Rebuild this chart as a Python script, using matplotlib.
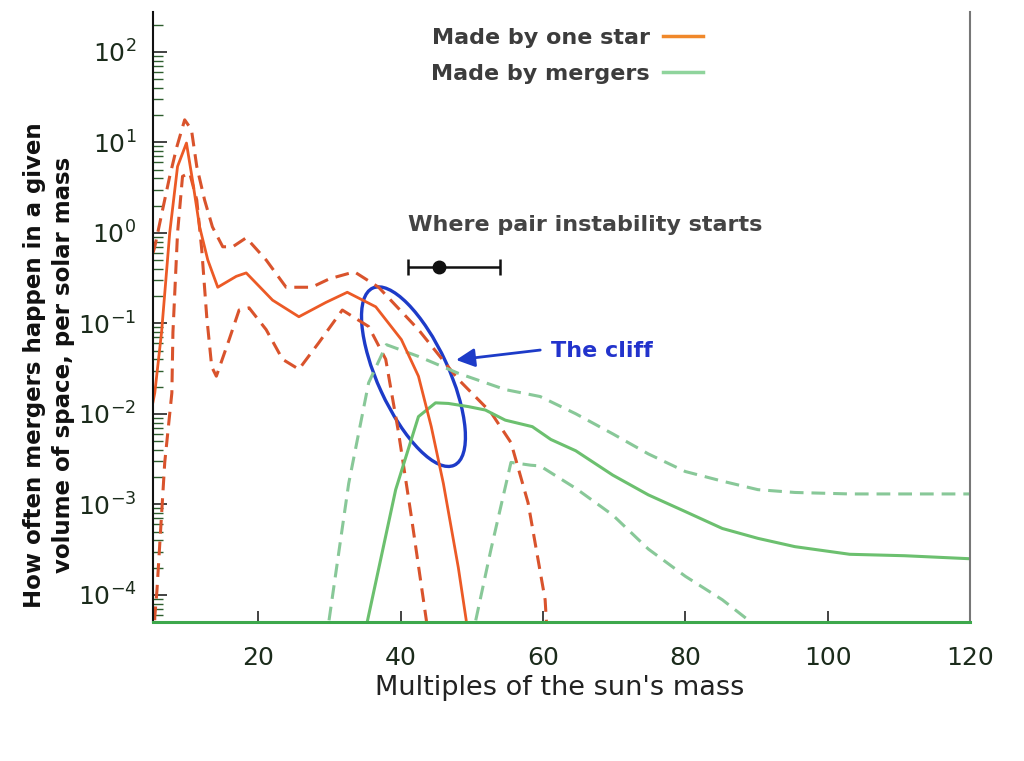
import matplotlib
matplotlib.use("Agg")
import matplotlib.pyplot as plt
import matplotlib.transforms as mtransforms
from matplotlib.patches import Ellipse
from matplotlib.lines import Line2D

# --- data (mass in solar masses, rate per solar mass) ---
FLOOR = 1e-5  # values that drop off the bottom of the plot

star_mid_x = [5.2, 5.45, 6.4, 7.55, 8.65, 9.9, 10.8, 11.75, 12.9, 14.3, 16.9, 18.3, 22.0, 25.7,
              29.5, 32.5, 36.5, 40.1, 42.5, 44.3, 46.0, 48.1, 49.2, 50.0]
star_mid_y = [0.0135, 0.017, 0.079, 1.0, 5.4, 9.8, 3.6, 1.16, 0.50, 0.25, 0.33, 0.36, 0.18, 0.118,
              0.17, 0.22, 0.152, 0.066, 0.026, 0.0072, 1.7e-3, 2.0e-4, 5.3e-5, FLOOR]

star_hi_x = [5.2, 5.45, 6.55, 7.55, 8.55, 9.65, 10.6, 11.35, 12.45, 13.55, 15.0, 16.4, 18.3,
             21.1, 23.9, 27.5, 30.0, 33.5, 36.9, 42.5, 48.1, 52.7, 55.5, 57.9, 60.3, 61.0]
star_hi_y = [0.60, 0.70, 1.8, 4.2, 8.9, 17.7, 13.8, 5.4, 2.3, 1.16, 0.70, 0.70, 0.88,
             0.50, 0.25, 0.25, 0.31, 0.37, 0.25, 0.085, 0.024, 0.0103, 4.8e-3, 1.04e-3, 8.8e-5, FLOOR]

star_lo_x = [5.2, 5.45, 5.75, 6.85, 7.85, 8.0, 8.65, 9.35, 10.35, 11.35, 12.05, 12.75, 13.45,
             14.1, 15.9, 17.3, 18.7, 21.1, 23.4, 25.7, 28.5, 31.8, 35.5, 37.9, 39.7, 41.5, 43.6, 44.5]
star_lo_y = [FLOOR, 5.7e-5, 1.1e-4, 2.9e-3, 0.017, 0.079, 1.0, 4.2, 4.6, 2.3, 0.65, 0.118, 0.033,
             0.026, 0.066, 0.14, 0.148, 0.085, 0.040, 0.031, 0.061, 0.14, 0.092, 0.040, 6.2e-3,
             7.3e-4, 5.3e-5, FLOOR]

merge_mid_x = [34.5, 35.3, 39.3, 42.5, 44.9, 46.7, 49.5, 51.9, 54.7, 58.5, 61.1, 64.6, 69.8,
               74.8, 80.0, 85.2, 90.2, 95.4, 103.1, 110.8, 120.0]
merge_mid_y = [FLOOR, 5e-5, 1.45e-3, 9.3e-3, 0.0132, 0.013, 0.012, 0.011, 8.5e-3, 7.2e-3, 5.2e-3,
               3.9e-3, 2.1e-3, 1.27e-3, 8.3e-4, 5.4e-4, 4.2e-4, 3.4e-4, 2.8e-4, 2.7e-4, 2.5e-4]

merge_hi_x = [29.3, 29.9, 32.7, 35.5, 38.0, 42.5, 48.1, 54.7, 59.6, 64.6, 69.8, 74.8, 80.0,
              85.2, 90.2, 95.4, 103.1, 120.0]
merge_hi_y = [FLOOR, 5e-5, 1.7e-3, 0.022, 0.058, 0.043, 0.028, 0.0185, 0.0155, 0.0100, 6.0e-3,
              3.6e-3, 2.3e-3, 1.8e-3, 1.45e-3, 1.35e-3, 1.3e-3, 1.3e-3]

merge_lo_x = [49.8, 50.5, 52.7, 55.5, 58.3, 59.6, 64.6, 69.8, 74.8, 80.0, 85.2, 89.2, 90.0]
merge_lo_y = [FLOOR, 5e-5, 3.2e-4, 2.9e-3, 2.7e-3, 2.65e-3, 1.5e-3, 7.6e-4, 3.2e-4, 1.6e-4,
              8.8e-5, 5e-5, FLOOR]

# pair instability onset: centre and range
pi_mass = 45.45
pi_low, pi_high = 41.1, 54.0
pi_level = 0.42

xticks = [20, 40, 60, 80, 100, 120]
yticks = [1e-4, 1e-3, 1e-2, 1e-1, 1e0, 1e1, 1e2]
ytick_labels = [r"$10^{-4}$", r"$10^{-3}$", r"$10^{-2}$", r"$10^{-1}$",
                r"$10^{0}$", r"$10^{1}$", r"$10^{2}$"]

# --- colours ---
ORANGE = "#ec5a26"
ORANGE_D = "#d9532c"
GREEN = "#6cc06f"
GREEN_D = "#88c898"
TICKCOL = "#1b2b1b"

fig = plt.figure(figsize=(10.24, 7.61), dpi=100)
ax = fig.add_axes([153 / 1024, 1 - 622 / 761, 817 / 1024, 610 / 761])

dash = (4.5, 2.6)
ax.plot(star_hi_x, star_hi_y, color=ORANGE_D, lw=2.2, dashes=dash)
ax.plot(star_lo_x, star_lo_y, color=ORANGE_D, lw=2.2, dashes=dash)
ax.plot(merge_hi_x, merge_hi_y, color=GREEN_D, lw=2.2, dashes=dash)
ax.plot(merge_lo_x, merge_lo_y, color=GREEN_D, lw=2.2, dashes=dash)
ax.plot(merge_mid_x, merge_mid_y, color=GREEN, lw=2.2)
ax.plot(star_mid_x, star_mid_y, color=ORANGE, lw=2.0)

ax.set_yscale("log")
ax.set_xlim(5.2, 120)
ax.set_ylim(5e-5, 2.75e2)

ax.set_xticks(xticks[:-1])
ax.set_xticklabels([])
ax.set_yticks(yticks)
ax.set_yticklabels(ytick_labels, fontsize=18, color=TICKCOL)
ax.tick_params(axis="x", direction="in", length=8, width=1.2, color="#222222")
ax.tick_params(axis="y", which="major", direction="in", length=10, width=1.2, color="#222222", pad=12)
ax.tick_params(axis="y", which="minor", direction="in", length=7, width=1.0, color="#2e5e2e")

# x tick labels placed by hand so that the last one sits under the right edge
for xv in xticks:
    ax.text(xv, -0.04, str(xv), transform=ax.get_xaxis_transform(),
            ha="center", va="top", fontsize=18, color=TICKCOL)

ax.spines["top"].set_visible(False)
ax.spines["right"].set_color("#777777")
ax.spines["right"].set_linewidth(1.5)
ax.spines["left"].set_color("#111111")
ax.spines["left"].set_linewidth(1.5)
ax.spines["bottom"].set_color("#3da84c")
ax.spines["bottom"].set_linewidth(2.2)

# pair instability marker
ax.errorbar([pi_mass], [pi_level], xerr=[[pi_mass - pi_low], [pi_high - pi_mass]],
            fmt="o", color="#111111", ms=9, lw=1.8, capsize=6, capthick=1.8)
ax.text(41.0, 1.22, "Where pair instability starts", fontsize=16, fontweight="bold",
        color="#444444", ha="left", va="center")

# "the cliff" ellipse, sized in inches around a data point
ell_trans = fig.dpi_scale_trans + mtransforms.ScaledTranslation(41.8, 0.0257, ax.transData)
ax.add_patch(Ellipse((0, 0), 1.95, 0.71, angle=-65.3, fill=False, edgecolor="#1d3bc8",
                     lw=2.4, transform=ell_trans))
ax.annotate("", xy=(47.4, 0.039), xytext=(60.0, 0.051),
            arrowprops=dict(arrowstyle="-|>", color="#1d3bc8", lw=2, mutation_scale=28))
ax.text(61.1, 0.049, "The cliff", fontsize=16, fontweight="bold", color="#2233cc",
        ha="left", va="center")

# legend with the sample line after the text
handles = [Line2D([], [], color="#f0882a", lw=2.5), Line2D([], [], color="#8fd49c", lw=2.5)]
leg = fig.legend(handles, ["Made by one star", "Made by mergers"], loc="upper left",
                 bbox_to_anchor=(411 / 1024, 1 - 8 / 761), frameon=False, markerfirst=False,
                 handlelength=1.8, handletextpad=0.6, labelspacing=0.72,
                 prop={"weight": "bold", "size": 16})
for t in leg.get_texts():
    t.set_color("#3c3c3c")

fig.text(560 / 1024, 1 - 688 / 761, "Multiples of the sun's mass", fontsize=19.5,
         color="#222222", ha="center", va="center")
fig.text(49 / 1024, 1 - 365 / 761,
         "How often mergers happen in a given\nvolume of space, per solar mass",
         rotation=90, fontsize=16.5, fontweight="bold",
         color="#111111", ha="center", va="center", multialignment="center", linespacing=1.35)

fig.savefig("out.png", dpi=100)
